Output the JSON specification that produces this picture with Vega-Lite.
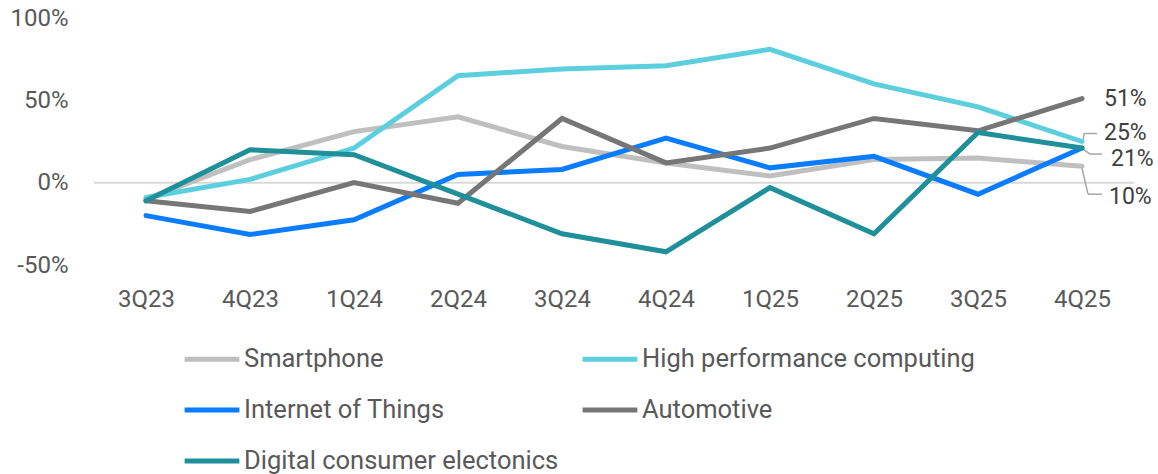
{
  "$schema": "https://vega.github.io/schema/vega-lite/v6.json",
  "width": 1040,
  "height": 247,
  "padding": {"left": 9, "top": 6, "right": 5, "bottom": 5},
  "background": "white",
  "config": {
    "view": {"stroke": null},
    "font": "Roboto",
    "axis": {"labelFont": "Roboto", "labelColor": "#595959", "labelFontSize": 24}
  },
  "datasets": {
    "growth": [
      {"q": "3Q23", "series": "Smartphone", "v": -10},
      {"q": "4Q23", "series": "Smartphone", "v": 14},
      {"q": "1Q24", "series": "Smartphone", "v": 31},
      {"q": "2Q24", "series": "Smartphone", "v": 40},
      {"q": "3Q24", "series": "Smartphone", "v": 22},
      {"q": "4Q24", "series": "Smartphone", "v": 12},
      {"q": "1Q25", "series": "Smartphone", "v": 4},
      {"q": "2Q25", "series": "Smartphone", "v": 14},
      {"q": "3Q25", "series": "Smartphone", "v": 15},
      {"q": "4Q25", "series": "Smartphone", "v": 10},
      {"q": "3Q23", "series": "High performance computing", "v": -9},
      {"q": "4Q23", "series": "High performance computing", "v": 2},
      {"q": "1Q24", "series": "High performance computing", "v": 21},
      {"q": "2Q24", "series": "High performance computing", "v": 65},
      {"q": "3Q24", "series": "High performance computing", "v": 69},
      {"q": "4Q24", "series": "High performance computing", "v": 71},
      {"q": "1Q25", "series": "High performance computing", "v": 81},
      {"q": "2Q25", "series": "High performance computing", "v": 60},
      {"q": "3Q25", "series": "High performance computing", "v": 46},
      {"q": "4Q25", "series": "High performance computing", "v": 25},
      {"q": "3Q23", "series": "Internet of Things", "v": -20},
      {"q": "4Q23", "series": "Internet of Things", "v": -31.5},
      {"q": "1Q24", "series": "Internet of Things", "v": -22.5},
      {"q": "2Q24", "series": "Internet of Things", "v": 5},
      {"q": "3Q24", "series": "Internet of Things", "v": 8},
      {"q": "4Q24", "series": "Internet of Things", "v": 27},
      {"q": "1Q25", "series": "Internet of Things", "v": 9},
      {"q": "2Q25", "series": "Internet of Things", "v": 16},
      {"q": "3Q25", "series": "Internet of Things", "v": -7},
      {"q": "4Q25", "series": "Internet of Things", "v": 21},
      {"q": "3Q23", "series": "Automotive", "v": -11},
      {"q": "4Q23", "series": "Automotive", "v": -17.5},
      {"q": "1Q24", "series": "Automotive", "v": 0},
      {"q": "2Q24", "series": "Automotive", "v": -12.5},
      {"q": "3Q24", "series": "Automotive", "v": 39},
      {"q": "4Q24", "series": "Automotive", "v": 12},
      {"q": "1Q25", "series": "Automotive", "v": 21},
      {"q": "2Q25", "series": "Automotive", "v": 39},
      {"q": "3Q25", "series": "Automotive", "v": 31.5},
      {"q": "4Q25", "series": "Automotive", "v": 51},
      {"q": "3Q23", "series": "Digital consumer electonics", "v": -11},
      {"q": "4Q23", "series": "Digital consumer electonics", "v": 20},
      {"q": "1Q24", "series": "Digital consumer electonics", "v": 17},
      {"q": "2Q24", "series": "Digital consumer electonics", "v": -7},
      {"q": "3Q24", "series": "Digital consumer electonics", "v": -31},
      {"q": "4Q24", "series": "Digital consumer electonics", "v": -42},
      {"q": "1Q25", "series": "Digital consumer electonics", "v": -3},
      {"q": "2Q25", "series": "Digital consumer electonics", "v": -31},
      {"q": "3Q25", "series": "Digital consumer electonics", "v": 30.5},
      {"q": "4Q25", "series": "Digital consumer electonics", "v": 21}
    ]
  },
  "data": {"name": "growth"},
  "encoding": {
    "x": {
      "field": "q",
      "type": "ordinal",
      "sort": null,
      "scale": {
        "type": "point",
        "padding": 0.5,
        "domain": ["3Q23", "4Q23", "1Q24", "2Q24", "3Q24", "4Q24", "1Q25", "2Q25", "3Q25", "4Q25"]
      },
      "axis": {"title": null, "domain": false, "ticks": false, "labelAngle": 0, "labelPadding": 22}
    },
    "y": {
      "field": "v",
      "type": "quantitative",
      "scale": {"domain": [-50, 100], "nice": false},
      "axis": {
        "title": null,
        "domain": false,
        "ticks": false,
        "grid": false,
        "values": [-50, 0, 50, 100],
        "labelExpr": "datum.value + '%'",
        "labelPadding": 26
      }
    }
  },
  "layer": [
    {
      "data": {"values": [{"v": 0}]},
      "mark": {"type": "rule", "color": "#D9D9D9", "strokeWidth": 2},
      "encoding": {"x": null, "y": {"field": "v", "type": "quantitative"}}
    },
    {
      "transform": [{"filter": "datum.q == '4Q25' && datum.series == 'High performance computing'"}],
      "mark": {"type": "rule", "color": "#A6A6A6", "strokeWidth": 1.5, "xOffset": 1, "x2Offset": 2, "yOffset": 0, "y2Offset": -8},
      "encoding": {"x2": {"field": "q"}, "y2": {"field": "v"}}
    },
    {
      "transform": [{"filter": "datum.q == '4Q25' && datum.series == 'High performance computing'"}],
      "mark": {"type": "rule", "color": "#A6A6A6", "strokeWidth": 1.5, "xOffset": 2, "x2Offset": 15, "yOffset": -8, "y2Offset": -8},
      "encoding": {"x2": {"field": "q"}, "y2": {"field": "v"}}
    },
    {
      "transform": [{"filter": "datum.q == '4Q25' && datum.series == 'Digital consumer electonics'"}],
      "mark": {"type": "rule", "color": "#A6A6A6", "strokeWidth": 1.5, "xOffset": 1, "x2Offset": 8, "yOffset": 1, "y2Offset": 6},
      "encoding": {"x2": {"field": "q"}, "y2": {"field": "v"}}
    },
    {
      "transform": [{"filter": "datum.q == '4Q25' && datum.series == 'Digital consumer electonics'"}],
      "mark": {"type": "rule", "color": "#A6A6A6", "strokeWidth": 1.5, "xOffset": 8, "x2Offset": 20, "yOffset": 6, "y2Offset": 6},
      "encoding": {"x2": {"field": "q"}, "y2": {"field": "v"}}
    },
    {
      "transform": [{"filter": "datum.q == '4Q25' && datum.series == 'Smartphone'"}],
      "mark": {"type": "rule", "color": "#A6A6A6", "strokeWidth": 1.5, "xOffset": 0, "x2Offset": 6, "yOffset": 2, "y2Offset": 28},
      "encoding": {"x2": {"field": "q"}, "y2": {"field": "v"}}
    },
    {
      "transform": [{"filter": "datum.q == '4Q25' && datum.series == 'Smartphone'"}],
      "mark": {"type": "rule", "color": "#A6A6A6", "strokeWidth": 1.5, "xOffset": 6, "x2Offset": 20, "yOffset": 28, "y2Offset": 28},
      "encoding": {"x2": {"field": "q"}, "y2": {"field": "v"}}
    },
    {
      "mark": {"type": "line", "strokeWidth": 5, "strokeCap": "round", "strokeJoin": "miter"},
      "encoding": {
        "color": {
          "field": "series",
          "type": "nominal",
          "sort": ["Smartphone", "High performance computing", "Internet of Things", "Automotive", "Digital consumer electonics"],
          "scale": {
            "domain": ["Smartphone", "High performance computing", "Internet of Things", "Automotive", "Digital consumer electonics"],
            "range": ["#BFBFBF", "#5BCFDE", "#0A7CFF", "#767676", "#1F9099"]
          },
          "legend": {
            "title": null,
            "orient": "none",
            "legendX": 88,
            "legendY": 311,
            "direction": "horizontal",
            "columns": 2,
            "columnPadding": 13,
            "rowPadding": 7,
            "symbolType": "stroke",
            "symbolStrokeWidth": 5,
            "symbolSize": 3000,
            "symbolOffset": 0,
            "labelOffset": 2,
            "labelFont": "Roboto",
            "labelFontSize": 25.5,
            "labelColor": "#595959",
            "labelLimit": 500
          }
        }
      }
    },
    {
      "transform": [{"filter": "datum.q == '4Q25' && datum.series == 'Automotive'"}],
      "mark": {"type": "text", "align": "left", "dx": 22, "dy": 0, "fontSize": 23, "color": "#404040"},
      "encoding": {"text": {"value": "51%"}}
    },
    {
      "transform": [{"filter": "datum.q == '4Q25' && datum.series == 'High performance computing'"}],
      "mark": {"type": "text", "align": "left", "dx": 22, "dy": -9, "fontSize": 23, "color": "#404040"},
      "encoding": {"text": {"value": "25%"}}
    },
    {
      "transform": [{"filter": "datum.q == '4Q25' && datum.series == 'Digital consumer electonics'"}],
      "mark": {"type": "text", "align": "left", "dx": 29, "dy": 11, "fontSize": 23, "color": "#404040"},
      "encoding": {"text": {"value": "21%"}}
    },
    {
      "transform": [{"filter": "datum.q == '4Q25' && datum.series == 'Smartphone'"}],
      "mark": {"type": "text", "align": "left", "dx": 27, "dy": 31, "fontSize": 23, "color": "#404040"},
      "encoding": {"text": {"value": "10%"}}
    }
  ]
}
